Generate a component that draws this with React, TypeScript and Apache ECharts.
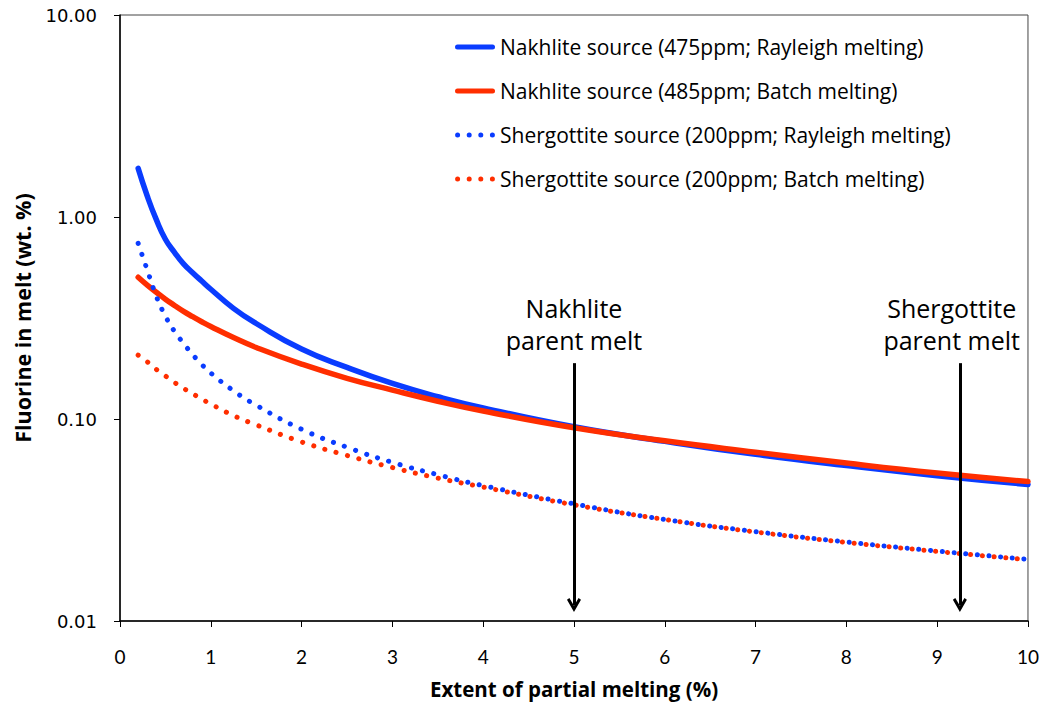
import React, { useEffect, useRef } from 'react';
import * as echarts from 'echarts';

// Extent of partial melting (%)
const xValues = [0.2, 0.3, 0.4, 0.5, 0.6, 0.7, 0.8, 0.9, 1, 1.25, 1.5, 2, 2.5, 3, 3.5, 4, 5, 6, 7, 8, 9, 10];
// Fluorine in melt (wt. %)
const nakhliteRayleigh = [1.74, 1.27, 0.97, 0.776, 0.668, 0.586, 0.53, 0.482, 0.439, 0.353, 0.297, 0.222, 0.18, 0.15, 0.129, 0.1135, 0.0915, 0.0775, 0.0668, 0.0588, 0.0524, 0.0474];
const nakhliteBatch = [0.503, 0.46, 0.424, 0.392, 0.365, 0.341, 0.321, 0.303, 0.287, 0.253, 0.226, 0.187, 0.159, 0.139, 0.1225, 0.1095, 0.0905, 0.078, 0.0685, 0.0605, 0.054, 0.049];
const shergottiteRayleigh = [0.74, 0.547, 0.405, 0.323, 0.2716, 0.2367, 0.2084, 0.1862, 0.1688, 0.138, 0.117, 0.089, 0.0725, 0.061, 0.053, 0.0468, 0.038, 0.0318, 0.0277, 0.0246, 0.0222, 0.0202];
const shergottiteBatch = [0.207, 0.192, 0.176, 0.1634, 0.1518, 0.142, 0.1334, 0.1256, 0.1186, 0.104, 0.0935, 0.077, 0.066, 0.0575, 0.051, 0.046, 0.0376, 0.0318, 0.0276, 0.0245, 0.0221, 0.0201];

const seriesNames = [
  'Nakhlite source (475ppm; Rayleigh melting)',
  'Nakhlite source (485ppm; Batch melting)',
  'Shergottite source (200ppm; Rayleigh melting)',
  'Shergottite source (200ppm; Batch melting)',
];

// Annotations
const arrowX = [5, 9.25];
const arrowTop = 0.189;
const arrowTip = 0.012;
const labelX = [5, 9.16];
const labelY = 0.294;
const labelTexts = ['Nakhlite\nparent melt', 'Shergottite\nparent melt'];

const BLUE = '#0A3CFF';
const RED = '#FF2E00';

const solidIcon = 'path://M2.5,0 L37.5,0 A2.5,2.5 0 0,1 37.5,5 L2.5,5 A2.5,2.5 0 0,1 2.5,0 Z';
const dottedIcon =
  'path://' +
  [2.5, 14.1, 25.7, 37.3]
    .map((c) => `M${c - 2.5},2.5 A2.5,2.5 0 1,0 ${c + 2.5},2.5 A2.5,2.5 0 1,0 ${c - 2.5},2.5 Z`)
    .join(' ');

export default function App() {
  const ref = useRef<HTMLDivElement>(null);

  useEffect(() => {
    document.body.style.margin = '0';
    if (!ref.current) return;
    const chart = echarts.init(ref.current, undefined, { renderer: 'svg' });

    const toPairs = (arr: number[]) => xValues.map((x, i) => [x, arr[i]]);
    const solid = (name: string, color: string, data: number[]) => ({
      name,
      type: 'line',
      data: toPairs(data),
      smooth: true,
      symbol: 'none',
      lineStyle: { color, width: 5.5, cap: 'round', join: 'round' },
      itemStyle: { color },
    });
    const dotted = (name: string, color: string, data: number[]) => ({
      name,
      type: 'line',
      data: toPairs(data),
      smooth: true,
      symbol: 'none',
      lineStyle: { color, width: 5, type: [0.1, 11.6], cap: 'round' },
      itemStyle: { color },
    });

    const option: any = {
      animation: false,
      backgroundColor: '#ffffff',
      grid: { left: 120, top: 15, right: 14, bottom: 86, show: true, borderColor: '#444', borderWidth: 1 },
      legend: {
        orient: 'vertical',
        left: 450,
        top: 30,
        itemWidth: 40,
        itemHeight: 5,
        itemGap: 20,
        itemStyle: { borderWidth: 0 },
        data: seriesNames.map((name, i) => ({ name, icon: i < 2 ? solidIcon : dottedIcon })),
        textStyle: { fontFamily: "'Open Sans'", fontSize: 21, color: '#000', lineHeight: 24 },
      },
      xAxis: {
        type: 'value',
        min: 0,
        max: 10,
        interval: 1,
        axisLine: { show: true, lineStyle: { color: '#000', width: 1.5 } },
        axisTick: { show: true, length: 6, lineStyle: { color: '#000' } },
        axisLabel: {
          margin: 26,
          fontFamily: 'Lato',
          fontSize: 19,
          color: '#000',
        },
        splitLine: { show: false },
        name: 'Extent of partial melting (%)',
        nameLocation: 'middle',
        nameGap: 57,
        nameTextStyle: { fontFamily: "'Open Sans'", fontWeight: 'bold', fontSize: 20.5, color: '#000' },
      },
      yAxis: {
        type: 'log',
        logBase: 10,
        min: 0.01,
        max: 10,
        axisLine: { show: true, lineStyle: { color: '#000', width: 1.5 } },
        axisTick: { show: true, length: 6, lineStyle: { color: '#000' } },
        minorTick: { show: false },
        axisLabel: {
          margin: 23,
          formatter: (v: number) => Number(v).toFixed(2),
          fontFamily: 'DejaVu Sans',
          fontSize: 18,
          color: '#000',
        },
        splitLine: { show: false },
        name: 'Fluorine in melt (wt. %)',
        nameLocation: 'middle',
        nameGap: 87,
        nameTextStyle: { fontFamily: "'Open Sans'", fontWeight: 'bold', fontSize: 21.5, color: '#000' },
      },
      series: [
        solid(seriesNames[0], BLUE, nakhliteRayleigh),
        solid(seriesNames[1], RED, nakhliteBatch),
        dotted(seriesNames[2], BLUE, shergottiteRayleigh),
        dotted(seriesNames[3], RED, shergottiteBatch),
        {
          name: 'annotations',
          type: 'line',
          data: [],
          symbol: 'none',
          z: 5,
          markLine: {
            silent: true,
            animation: false,
            symbol: ['none', 'path://M7,0 L14,11 L11.6,12.6 L7,5.6 L2.4,12.6 L0,11 Z'],
            symbolSize: [14, 14],
            lineStyle: { color: '#000', width: 3, type: 'solid' },
            label: { show: false },
            emphasis: { disabled: true },
            data: arrowX.map((x) => [{ coord: [x, arrowTop] }, { coord: [x, arrowTip] }]),
          },
          markPoint: {
            silent: true,
            animation: false,
            symbol: 'rect',
            symbolSize: 1,
            itemStyle: { color: 'rgba(0,0,0,0)' },
            label: {
              show: true,
              position: 'inside',
              formatter: (p: any) => p.name,
              fontFamily: "'Open Sans'",
              fontSize: 25,
              lineHeight: 32,
              color: '#000',
              align: 'center',
            },
            data: labelX.map((x, i) => ({ name: labelTexts[i], coord: [x, labelY] })),
          },
        },
      ],
    };

    chart.setOption(option);
    return () => chart.dispose();
  }, []);

  return <div ref={ref} style={{ width: 1042, height: 707 }} />;
}
